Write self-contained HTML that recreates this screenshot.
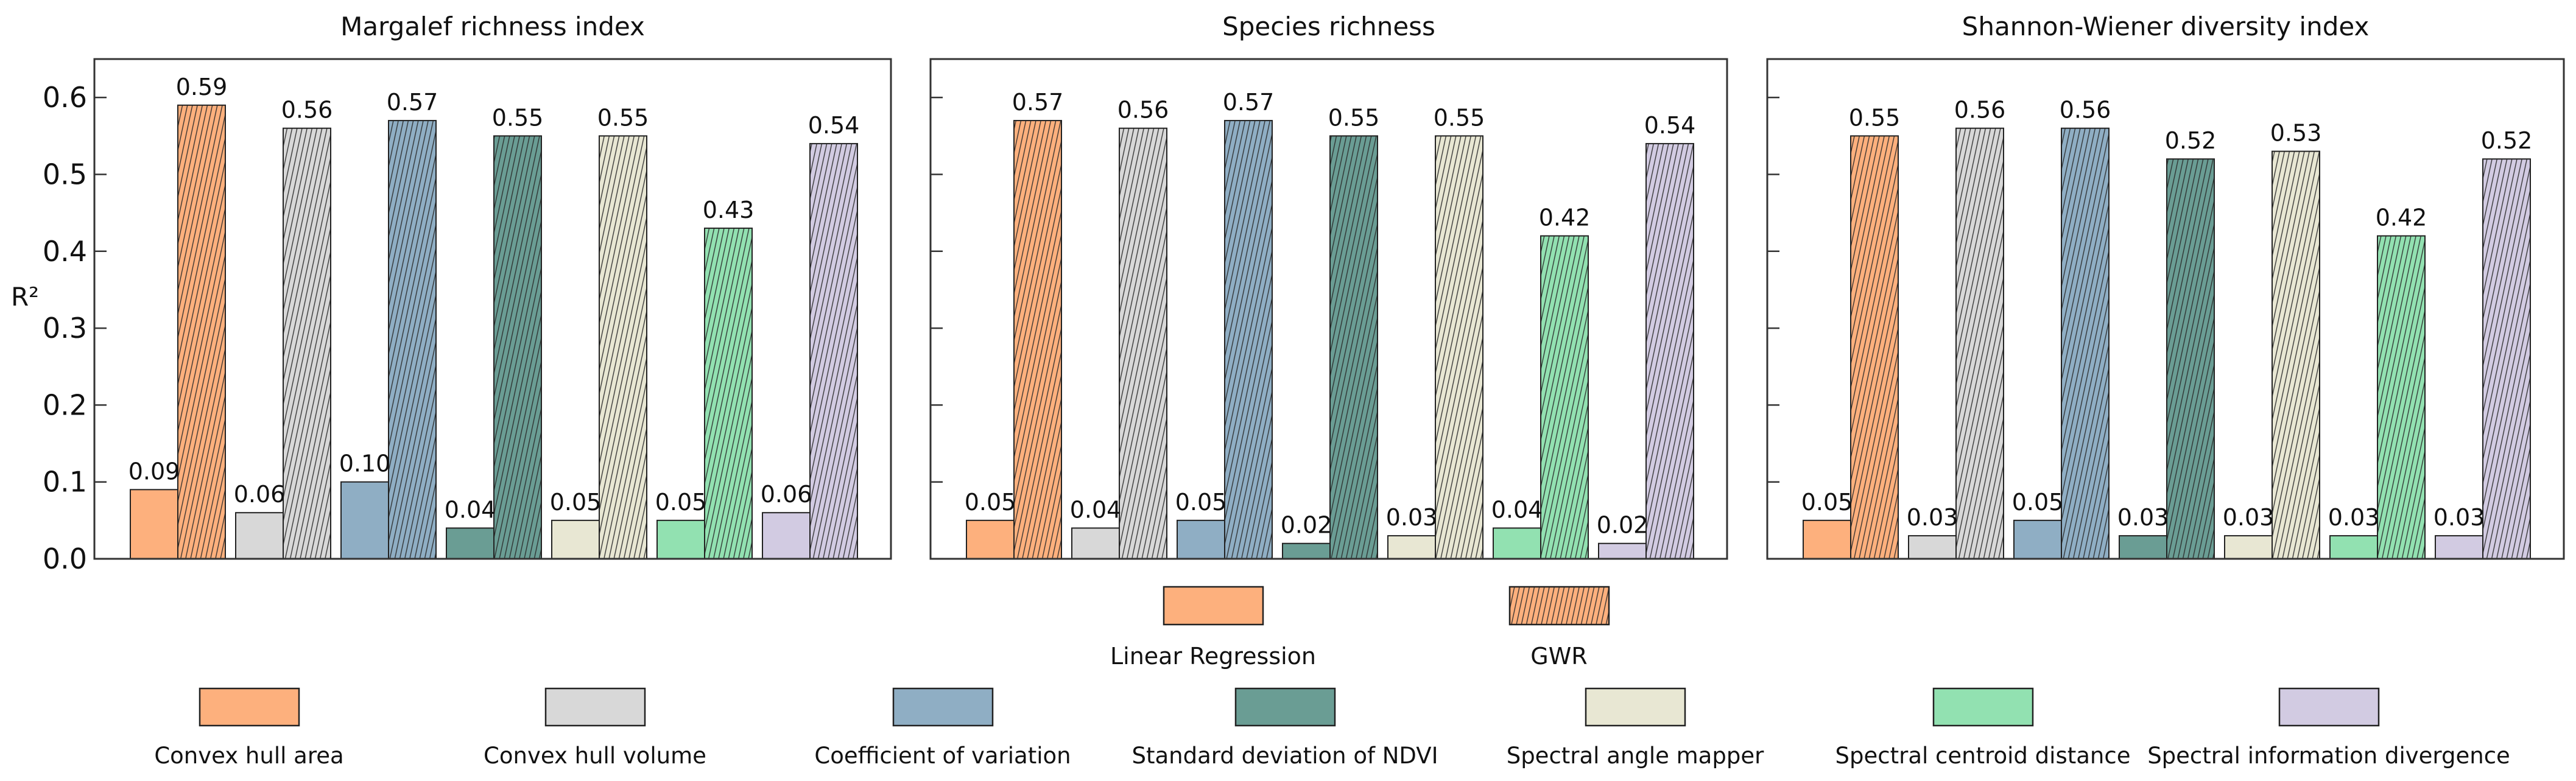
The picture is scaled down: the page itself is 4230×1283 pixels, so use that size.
<!DOCTYPE html>
<html><head><meta charset="utf-8">
<style>
html,body{margin:0;padding:0;background:#fff;}
svg{display:block;font-family:"DejaVu Sans","Liberation Sans",sans-serif;}
</style></head>
<body>
<svg id="chart" width="4230" height="1283" viewBox="0 0 4230 1283" xmlns="http://www.w3.org/2000/svg">
<defs id="defs"></defs>
<g id="root"></g>
</svg>
<script>
const panelTitles = ["Margalef richness index", "Species richness", "Shannon-Wiener diversity index"];
const categories = ["Convex hull area", "Convex hull volume", "Coefficient of variation", "Standard deviation of NDVI", "Spectral angle mapper", "Spectral centroid distance", "Spectral information divergence"];
const colors = ["#FDB07D", "#D8D8D8", "#8FAEC4", "#6A9D94", "#E8E7D3", "#92E1B1", "#D2CBE2"];
const lrMargalef = [0.09, 0.06, 0.10, 0.04, 0.05, 0.05, 0.06];
const gwrMargalef = [0.59, 0.56, 0.57, 0.55, 0.55, 0.43, 0.54];
const lrSpecies = [0.05, 0.04, 0.05, 0.02, 0.03, 0.04, 0.02];
const gwrSpecies = [0.57, 0.56, 0.57, 0.55, 0.55, 0.42, 0.54];
const lrShannon = [0.05, 0.03, 0.05, 0.03, 0.03, 0.03, 0.03];
const gwrShannon = [0.55, 0.56, 0.56, 0.52, 0.53, 0.42, 0.52];
const yTicks = [0.0, 0.1, 0.2, 0.3, 0.4, 0.5, 0.6];
const modelNames = ["Linear Regression", "GWR"];

const NS = "http://www.w3.org/2000/svg";
const rootG = document.getElementById("root");
const defsEl = document.getElementById("defs");
function mk(tag, attrs, parent) {
  const e = document.createElementNS(NS, tag);
  for (const k in attrs) e.setAttribute(k, attrs[k]);
  (parent || rootG).appendChild(e);
  return e;
}
colors.forEach((c, i) => {
  const p = mk("pattern", {id: "h" + i, width: 8, height: 10, patternUnits: "userSpaceOnUse", patternTransform: "rotate(12)"}, defsEl);
  mk("rect", {x: 0, y: 0, width: 8, height: 10, fill: c}, p);
  mk("line", {x1: 1, y1: -1, x2: 1, y2: 11, stroke: "#2a2a2a", "stroke-width": 1.3}, p);
});

const lrData = [lrMargalef, lrSpecies, lrShannon];
const gwrData = [gwrMargalef, gwrSpecies, gwrShannon];
const panelLeft = [155, 1528, 2902];
const panelW = 1308, plotTop = 97, plotBottom = 918, yMax = 0.65;
const barW = 78, pitch = 173, firstOff = 59;
function yScale(v) { return plotBottom - (v / yMax) * (plotBottom - plotTop); }
function xGroup(p, i) { return panelLeft[p] + firstOff + i * pitch; }

panelTitles.forEach((t, p) => {
  const g = mk("g", {});
  
  
  const L = panelLeft[p];
  const title = mk("text", {x: L + panelW / 2, y: 58, "text-anchor": "middle", "font-size": 42, fill: "#111"}, g);
  title.textContent = t;
  
  
  categories.forEach((c, i) => {
    const x0 = xGroup(p, i);
    const v1 = lrData[p][i], v2 = gwrData[p][i];
    const b1 = mk("rect", {x: x0, y: yScale(v1), width: barW, height: plotBottom - yScale(v1), fill: colors[i], stroke: "#222", "stroke-width": 2}, g);
    
    
    const b2 = mk("rect", {x: x0 + barW, y: yScale(v2), width: barW, height: plotBottom - yScale(v2), fill: "url(#h" + i + ")", stroke: "#222", "stroke-width": 2}, g);
    
    
    const t1 = mk("text", {x: x0 + barW / 2, y: yScale(v1) - 17, "text-anchor": "middle", "font-size": 38, fill: "#111"}, g);
    t1.textContent = v1.toFixed(2);
    
    
    const t2 = mk("text", {x: x0 + barW * 1.5, y: yScale(v2) - 17, "text-anchor": "middle", "font-size": 38, fill: "#111"}, g);
    t2.textContent = v2.toFixed(2);
    
    
  });
  const fr = mk("rect", {x: L, y: plotTop, width: panelW, height: plotBottom - plotTop, fill: "none", stroke: "#333", "stroke-width": 3}, g);
  
  
  yTicks.forEach(v => {
    const tk = mk("line", {x1: L, x2: L + 20, y1: yScale(v), y2: yScale(v), stroke: "#333", "stroke-width": 2.5}, g);
    
    
    if (p === 0) {
      const tl = mk("text", {x: L - 12, y: yScale(v) + 16, "text-anchor": "end", "font-size": 46, fill: "#111"}, g);
      tl.textContent = v.toFixed(1);
      
      
    }
  });
});
const yt = mk("text", {x: 18, y: 502, "font-size": 42, fill: "#111"});
yt.textContent = "R²";



const modelX = [1911, 2479];
modelNames.forEach((m, k) => {
  const r = mk("rect", {x: modelX[k], y: 964, width: 163, height: 62, fill: k === 0 ? colors[0] : "url(#h0)", stroke: "#222", "stroke-width": 2.5});
  
  
  const t = mk("text", {x: modelX[k] + 81, y: 1091, "text-anchor": "middle", "font-size": 38, fill: "#111"});
  t.textContent = m;
  
  
});
const catCenters = [409, 977, 1548, 2110, 2685, 3256, 3824];
categories.forEach((c, i) => {
  const r = mk("rect", {x: catCenters[i] - 81, y: 1131, width: 163, height: 61, fill: colors[i], stroke: "#222", "stroke-width": 2.5});
  
  
  const t = mk("text", {x: catCenters[i], y: 1254, "text-anchor": "middle", "font-size": 37, fill: "#111"});
  t.textContent = c;
  
  
});
</script>
</body></html>
